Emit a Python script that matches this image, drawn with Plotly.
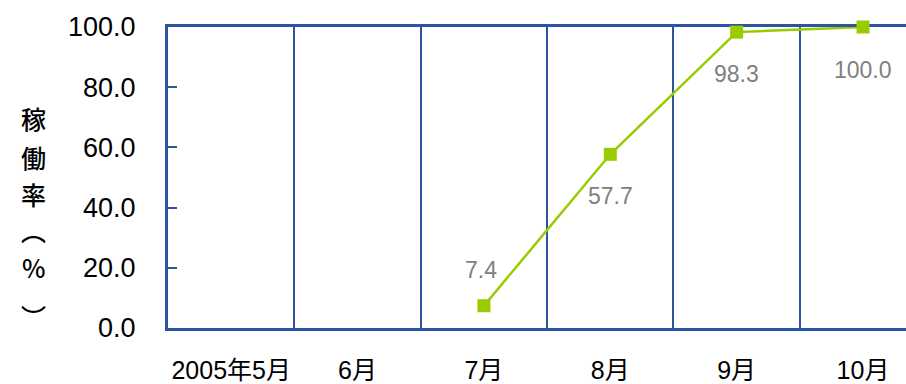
import plotly.graph_objects as go

categories = ["2005年5月", "6月", "7月", "8月", "9月", "10月"]
rate = [None, None, 7.4, 57.7, 98.3, 100.0]
label_shift = [0, 0, 36, -42, -42, -43]
y_ticks = [0, 20, 40, 60, 80, 100]
title_chars = ["稼", "働", "率", "︵", "%", "︶"]
title_px = [118, 157, 194, 230, 267, 316]

BLUE = "#2E54A1"
GREEN = "#99CC00"
FONT = "Liberation Sans, Arial, Noto Sans CJK JP, sans-serif"

fig = go.Figure()
fig.add_trace(go.Scatter(
    x=categories, y=rate, mode="lines+markers",
    line=dict(color=GREEN, width=2.5),
    marker=dict(symbol="square", size=13, color=GREEN),
    connectgaps=False, hoverinfo="skip", showlegend=False, cliponaxis=False,
))

for c, v, s in zip(categories, rate, label_shift):
    if v is None:
        continue
    fig.add_annotation(x=c, y=v, xref="x", yref="y", text=f"{v:.1f}",
                       showarrow=False, yshift=s, xshift=-3 if s > 0 else 0,
                       font=dict(family=FONT, size=23, color="#808080"))

top, bottom, left, right = 27, 328, 168, 906
for ch, py in zip(title_chars, title_px):
    fig.add_annotation(x=(33 - left) / (right - left), y=(bottom - py) / (bottom - top),
                       xref="paper", yref="paper",
                       text=ch, showarrow=False, xanchor="center", yanchor="middle",
                       font=dict(family="Noto Sans CJK JP, sans-serif", size=25,
                                 color="#000000", weight=500))

fig.update_layout(
    width=906, height=384,
    margin=dict(l=left, r=0, t=top, b=384 - bottom, autoexpand=False),
    paper_bgcolor="white", plot_bgcolor="white",
    font=dict(family=FONT, size=22, color="#000000"),
    xaxis=dict(
        type="category", range=[-0.5, 5.34], tickangle=0, automargin=False,
        tickson="boundaries", showgrid=True, gridcolor=BLUE, gridwidth=2,
        showline=True, linecolor=BLUE, linewidth=3, mirror=True,
        ticks="", ticklabelstandoff=18, zeroline=False, layer="below traces",
        tickfont=dict(family=FONT, size=25, color="#000000"),
    ),
    yaxis=dict(
        range=[0, 100], tickvals=y_ticks, ticktext=[f"{t:.1f}" for t in y_ticks],
        showgrid=False, zeroline=False, layer="below traces", automargin=False,
        showline=True, linecolor=BLUE, linewidth=3,
        ticks="inside", ticklen=9, tickwidth=2, tickcolor=BLUE,
        ticklabelstandoff=24,
        tickfont=dict(family=FONT, size=27, color="#000000"),
    ),
)

fig.write_html("out.html")
